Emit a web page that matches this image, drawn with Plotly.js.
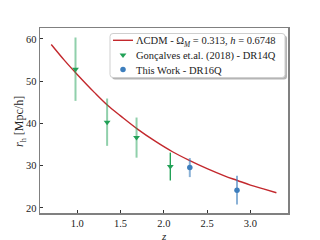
<!DOCTYPE html>
<html>
<head>
<meta charset="utf-8">
<script src="https://cdn.plot.ly/plotly-3.0.1.min.js"></script>
<style>html,body{margin:0;padding:0;background:#fff;}#plot{width:320px;height:240px;}</style>
</head>
<body>
<div id="plot"></div>
<script>
// Model curve
const curveZ = [0.70, 0.85, 1.00, 1.20, 1.35, 1.50, 1.70, 1.90, 2.10, 2.30, 2.50, 2.70, 2.85, 3.00, 3.15, 3.30];
const curveR = [58.7, 55.0, 51.6, 47.3, 44.3, 41.8, 38.6, 35.8, 33.3, 31.2, 29.3, 27.6, 26.5, 25.4, 24.5, 23.6];
// Gonçalves et al. (2018) - DR14Q
const goncZ = [0.98, 1.345, 1.685, 2.075];
const goncR = [52.85, 40.3, 36.65, 29.8];
const goncErr = [7.5, 5.6, 4.75, 3.3];
// This Work - DR16Q
const dr16Z = [2.30, 2.845];
const dr16R = [29.55, 24.2];
const dr16Err = [2.25, 3.4];
// Labels
const curveName = 'ΛCDM - Ω<sub><i>M</i></sub> = 0.313, <i>h</i> = 0.6748';
const goncName = 'Gonçalves et.al. (2018) - DR14Q';
const dr16Name = 'This Work - DR16Q';
const xTitle = '<i>z</i>';
const yTitle = '<i>r</i><sub>h</sub> [Mpc&#47;h]';
const xTicks = [1.0, 1.5, 2.0, 2.5, 3.0];
const yTicks = [20, 30, 40, 50, 60];

const green = '#22a157';
const blue = '#3d7ebd';
const red = '#c3282d';

// plot-area geometry (pixels) used only for the legend frame and titles
const PL = 40, PR = 288, PT = 28, PB = 213;
function px2paper(x, y) { return [(x - PL) / (PR - PL), (PB - y) / (PB - PT)]; }
function roundRectPath(x0, y0, x1, y1, r) {
  const p = (x, y) => px2paper(x, y).map(v => v.toFixed(5)).join(',');
  return 'M' + p(x0 + r, y0) + ' L' + p(x1 - r, y0) + ' Q' + p(x1, y0) + ' ' + p(x1, y0 + r) +
         ' L' + p(x1, y1 - r) + ' Q' + p(x1, y1) + ' ' + p(x1 - r, y1) +
         ' L' + p(x0 + r, y1) + ' Q' + p(x0, y1) + ' ' + p(x0, y1 - r) +
         ' L' + p(x0, y0 + r) + ' Q' + p(x0, y0) + ' ' + p(x0 + r, y0) + ' Z';
}
const LB = {x0: 110, y0: 33.5, x1: 285, y1: 77.5};

const traces = [
  {x: curveZ, y: curveR, mode: 'lines', name: curveName,
   line: {color: red, width: 1.4, shape: 'spline'}},
  {x: goncZ.slice(0, 3), y: goncR.slice(0, 3), mode: 'markers', name: goncName,
   marker: {color: green, symbol: 'triangle-down', size: 6},
   error_y: {type: 'data', array: goncErr.slice(0, 3), visible: true,
             color: 'rgba(34,161,87,0.5)', thickness: 2, width: 0}},
  {x: goncZ.slice(3), y: goncR.slice(3), mode: 'markers', name: goncName, showlegend: false,
   marker: {color: green, symbol: 'triangle-down', size: 6},
   error_y: {type: 'data', array: goncErr.slice(3), visible: true,
             color: green, thickness: 1.4, width: 0}},
  {x: dr16Z, y: dr16R, mode: 'markers', name: dr16Name,
   marker: {color: blue, symbol: 'circle', size: 5.5},
   error_y: {type: 'data', array: dr16Err, visible: true,
             color: 'rgba(61,126,189,0.6)', thickness: 2, width: 0}}
];

const fam = 'Liberation Serif, DejaVu Serif, serif';
const xT = px2paper(164, 235.5), yT = px2paper(20, 122);

const layout = {
  width: 320, height: 240,
  margin: {l: PL, r: 320 - PR, t: PT, b: 240 - PB},
  paper_bgcolor: '#fff', plot_bgcolor: '#fff',
  font: {family: fam, size: 10.5, color: '#222'},
  showlegend: true,
  legend: {x: 0.28, y: 1.0, xanchor: 'left', yanchor: 'top',
           bgcolor: 'rgba(0,0,0,0)', borderwidth: 0,
           font: {family: fam, size: 10.5, color: '#222'},
           tracegroupgap: 0, itemwidth: 30},
  shapes: [
    {type: 'path', xref: 'paper', yref: 'paper', layer: 'above',
     path: roundRectPath(LB.x0 + 2, LB.y0 + 2, LB.x1 + 2, LB.y1 + 2, 3),
     fillcolor: 'rgba(120,120,120,0.55)', line: {width: 0}},
    {type: 'path', xref: 'paper', yref: 'paper', layer: 'above',
     path: roundRectPath(LB.x0, LB.y0, LB.x1, LB.y1, 3),
     fillcolor: '#ffffff', line: {color: '#cfcfcf', width: 1}}
  ],
  annotations: [
    {text: xTitle, xref: 'paper', yref: 'paper', x: xT[0], y: xT[1],
     xanchor: 'center', yanchor: 'middle', showarrow: false,
     font: {family: fam, size: 11, color: '#222'}},
    {text: yTitle, xref: 'paper', yref: 'paper', x: yT[0], y: yT[1], textangle: -90,
     xanchor: 'center', yanchor: 'middle', showarrow: false,
     font: {family: fam, size: 12, color: '#222'}}
  ],
  xaxis: {range: [0.57, 3.434], tickvals: xTicks, ticktext: xTicks.map(v => v.toFixed(1)),
          ticks: 'inside', ticklen: 3, tickcolor: '#333', showgrid: false, zeroline: false,
          showline: true, linecolor: '#808080', linewidth: 1.5, mirror: true,
          tickfont: {family: fam, size: 10.5}, automargin: false},
  yaxis: {range: [18.8, 62.6], tickvals: yTicks,
          ticks: 'inside', ticklen: 3, tickcolor: '#333', showgrid: false, zeroline: false,
          showline: true, linecolor: '#808080', linewidth: 1.5, mirror: true,
          tickfont: {family: fam, size: 10.5}, automargin: false}
};

Plotly.newPlot('plot', traces, layout, {staticPlot: true, displayModeBar: false}).then(function () {
  // Place legend rows like the matplotlib legend (tighter rows, shorter line sample)
  const leg = document.querySelector('#plot .legend');
  if (!leg) return;
  leg.querySelectorAll('[clip-path]').forEach(el => el.removeAttribute('clip-path'));
  const items = leg.querySelectorAll('g.traces');
  const rowY = [40.3, 55.0, 69.5];
  const symLeft = 113;
  items.forEach(function (g, i) {
    g.setAttribute('transform', 'translate(0,0)');
    const m = g.getCTM();
    g.setAttribute('transform', 'translate(' + (symLeft - 5 - m.e) + ',' + (rowY[i] - m.f) + ')');
    g.querySelectorAll('path.js-line').forEach(p => p.setAttribute('d', 'M5,0h20'));
    g.querySelectorAll('path.scatterpts').forEach(p => {
      p.setAttribute('transform', 'translate(15,0)');
    });
    const t = g.querySelector('text.legendtext');
    if (t) {
      t.setAttribute('x', 28);
      t.querySelectorAll('tspan[x]').forEach(ts => ts.setAttribute('x', 28));
    }
  });
});
</script>
</body>
</html>
